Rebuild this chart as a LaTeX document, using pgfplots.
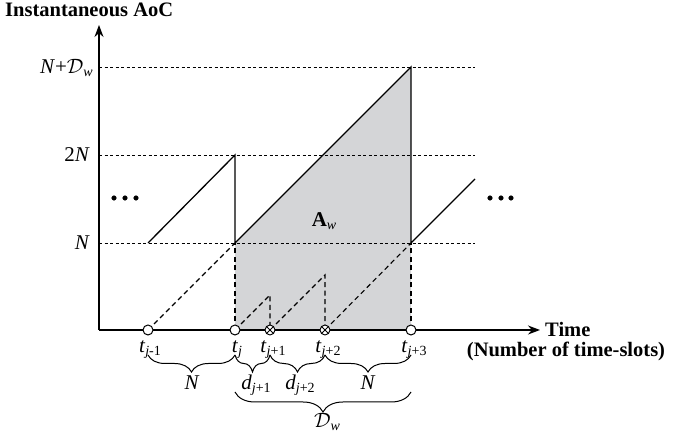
\documentclass[border=0pt]{standalone}
\usepackage{fontspec}
\setmainfont{Liberation Serif}
\usepackage{pgfplots}
\pgfplotsset{compat=1.18}
\usetikzlibrary{arrows.meta,decorations.pathreplacing,plotmarks}
\definecolor{shade}{HTML}{D4D5D7}
\newcommand{\lbl}{\fontsize{21}{24}\selectfont}
\newcommand{\sub}[1]{\raisebox{-0.22ex}{\fontsize{14}{16}\selectfont #1}}
\begin{document}
\begin{tikzpicture}
\begin{axis}[name=ax, x=1pt, y=1pt, xmin=-99, xmax=574, ymin=-109, ymax=330,
  hide axis, clip=false]
% shaded area A_w
\addplot[fill=shade, draw=none] coordinates {(136,0) (136,87) (312,263) (312,0)} -- cycle;
% dotted reference levels
\addplot[black, line width=0.7pt, dash pattern=on 3pt off 2.5pt] coordinates {(0,87) (376,87)};
\addplot[black, line width=0.7pt, dash pattern=on 3pt off 2.5pt] coordinates {(0,175) (376,175)};
\addplot[black, line width=0.7pt, dash pattern=on 3pt off 2.5pt] coordinates {(0,263) (376,263)};
% axes
\addplot[black, line width=1.4pt, -{Stealth[length=12pt,width=9pt]}] coordinates {(0,0) (0,305)};
\addplot[black, line width=1.4pt, -{Stealth[length=12pt,width=9pt]}] coordinates {(0,0) (441,0)};
% dashed lines
\addplot[black, line width=1.1pt, dash pattern=on 5pt off 3.5pt] coordinates {(49,0) (136,87)};
\addplot[black, line width=1.1pt, dash pattern=on 5pt off 3.5pt] coordinates {(136,0) (136,87)};
\addplot[black, line width=1.1pt, dash pattern=on 5pt off 3.5pt] coordinates {(136,0) (171,35) (171,0)};
\addplot[black, line width=1.1pt, dash pattern=on 5pt off 3.5pt] coordinates {(171,0) (226,55) (226,0)};
\addplot[black, line width=1.1pt, dash pattern=on 5pt off 3.5pt] coordinates {(226,0) (312,87)};
\addplot[black, line width=1.1pt, dash pattern=on 5pt off 3.5pt] coordinates {(312,0) (312,87)};
% instantaneous AoC (solid)
\addplot[black, line width=1.3pt] coordinates {(49,87) (136,175) (136,87) (312,263) (312,87) (376,151)};
% ellipsis dots
\addplot[only marks, mark=*, mark size=2.3pt, black] coordinates {(15,132) (26,132) (37,132)};
\addplot[only marks, mark=*, mark size=2.3pt, black] coordinates {(391,132) (402,132) (412,132)};
% time markers
\addplot[only marks, mark=*, mark size=5pt, mark options={fill=white, draw=black, line width=1pt}] coordinates {(49,0) (136,0) (312,0)};
\addplot[only marks, mark=otimes*, mark size=5pt, mark options={fill=white, draw=black, line width=0.9pt}] coordinates {(171,0) (226,0)};
% braces
\draw[decorate, decoration={brace, mirror, amplitude=17pt}, line width=1pt] (axis cs:49,-25) -- (axis cs:136,-25);
\draw[decorate, decoration={brace, mirror, amplitude=17pt}, line width=1pt] (axis cs:136,-25) -- (axis cs:171,-25);
\draw[decorate, decoration={brace, mirror, amplitude=17pt}, line width=1pt] (axis cs:171,-25) -- (axis cs:226,-25);
\draw[decorate, decoration={brace, mirror, amplitude=17pt}, line width=1pt] (axis cs:226,-25) -- (axis cs:312,-25);
\draw[decorate, decoration={brace, mirror, amplitude=20pt}, line width=1pt] (axis cs:136,-62) -- (axis cs:312,-62);
% texts
\node[anchor=base west, inner sep=0pt, font=\fontsize{20.5}{24}\selectfont\bfseries] at (axis cs:-94,313) {Instantaneous AoC};
\node[anchor=base west, inner sep=0pt, font=\fontsize{20.5}{24}\selectfont\bfseries] at (axis cs:446,-7) {Time};
\node[anchor=base, inner sep=0pt, font=\fontsize{20.5}{24}\selectfont\bfseries] at (axis cs:467,-27) {(Number of time-slots)};
\node[anchor=base east, inner sep=0pt, font=\lbl] at (axis cs:-6,256) {\textit{N}+$\mathcal{D}$\sub{\textit{w}}};
\node[anchor=base east, inner sep=0pt, font=\lbl] at (axis cs:-9,168) {2\textit{N}};
\node[anchor=base east, inner sep=0pt, font=\lbl] at (axis cs:-9,80) {\textit{N}};
\node[anchor=base, inner sep=0pt, font=\lbl] at (axis cs:51,-23) {\textit{t}\sub{\textit{j}-1}};
\node[anchor=base, inner sep=0pt, font=\lbl] at (axis cs:138,-23) {\textit{t}\sub{\textit{j}}};
\node[anchor=base, inner sep=0pt, font=\lbl] at (axis cs:174,-23) {\textit{t}\sub{\textit{j}+1}};
\node[anchor=base, inner sep=0pt, font=\lbl] at (axis cs:229,-23) {\textit{t}\sub{\textit{j}+2}};
\node[anchor=base, inner sep=0pt, font=\lbl] at (axis cs:315,-23) {\textit{t}\sub{\textit{j}+3}};
\node[anchor=base, inner sep=0pt, font=\lbl] at (axis cs:93,-60) {\textit{N}};
\node[anchor=base, inner sep=0pt, font=\lbl] at (axis cs:157,-60) {\textit{d}\sub{\textit{j}+1}};
\node[anchor=base, inner sep=0pt, font=\lbl] at (axis cs:201,-60) {\textit{d}\sub{\textit{j}+2}};
\node[anchor=base, inner sep=0pt, font=\lbl] at (axis cs:269,-60) {\textit{N}};
\node[anchor=base, inner sep=0pt, font=\lbl] at (axis cs:228,-98) {$\mathcal{D}$\sub{\textit{w}}};
\node[anchor=base, inner sep=0pt, font=\lbl] at (axis cs:225,103) {\textbf{A}\sub{\textit{w}}};
\end{axis}
\pgfresetboundingbox
\path (ax.south west) rectangle (ax.north east);
\end{tikzpicture}
\end{document}
